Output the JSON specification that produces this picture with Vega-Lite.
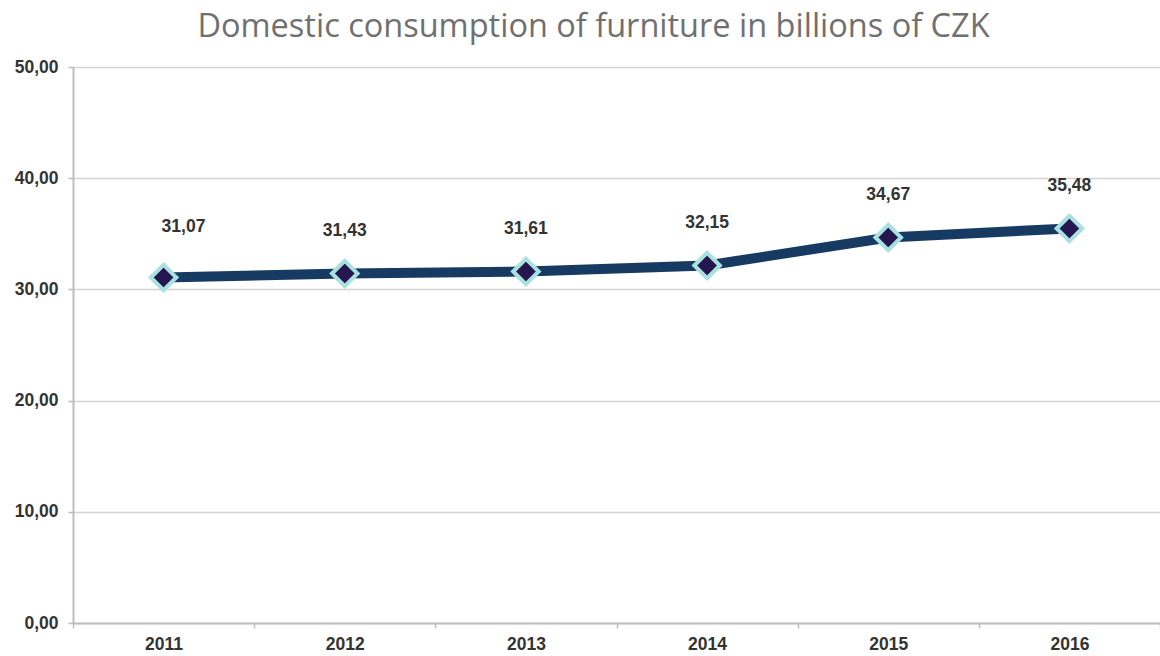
{
  "$schema": "https://vega.github.io/schema/vega-lite/v6.json",
  "width": 1087,
  "height": 556,
  "autosize": {"type": "none"},
  "padding": {"left": 73, "top": 67, "right": 0, "bottom": 33},
  "background": "white",
  "title": {
    "text": "Domestic consumption of furniture in billions of CZK",
    "font": "Open Sans",
    "fontSize": 32.5,
    "fontWeight": "normal",
    "color": "#707070",
    "anchor": "middle",
    "dx": -23,
    "offset": 15
  },
  "data": {
    "values": [
      {"year": "2011", "value": 31.07, "label": "31,07"},
      {"year": "2012", "value": 31.43, "label": "31,43"},
      {"year": "2013", "value": 31.61, "label": "31,61"},
      {"year": "2014", "value": 32.15, "label": "32,15"},
      {"year": "2015", "value": 34.67, "label": "34,67"},
      {"year": "2016", "value": 35.48, "label": "35,48"}
    ]
  },
  "config": {
    "view": {"stroke": null},
    "axis": {
      "labelFont": "Liberation Sans",
      "labelFontWeight": "bold",
      "labelFontSize": 17.5,
      "labelColor": "#333333",
      "domainColor": "#bdbdbd",
      "domainWidth": 2,
      "tickColor": "#bdbdbd",
      "tickWidth": 1.5,
      "tickSize": 5,
      "gridColor": "#d3d3d3",
      "gridWidth": 1.5,
      "title": null
    }
  },
  "encoding": {
    "x": {
      "field": "year",
      "type": "ordinal",
      "scale": {"paddingInner": 0, "paddingOuter": 0},
      "axis": {"labelAngle": 0, "tickBand": "extent", "labelPadding": 7, "grid": false}
    },
    "y": {
      "field": "value",
      "type": "quantitative",
      "scale": {"domain": [0, 50], "nice": false, "zero": true},
      "axis": {
        "values": [0, 10, 20, 30, 40, 50],
        "labelExpr": "replace(format(datum.value, '.2f'), '.', ',')",
        "labelPadding": 10,
        "grid": true
      }
    }
  },
  "layer": [
    {
      "mark": {"type": "line", "color": "#173a63", "strokeWidth": 10, "strokeCap": "round", "strokeJoin": "round"}
    },
    {
      "mark": {"type": "point", "shape": "diamond", "size": 650, "filled": true, "fill": "#25164f", "stroke": "#a9e1e1", "strokeWidth": 4, "opacity": 1}
    },
    {
      "transform": [{"filter": "datum.year != '2011'"}],
      "mark": {"type": "text", "font": "Liberation Sans", "fontWeight": "bold", "fontSize": 17.5, "color": "#333333", "dy": -42},
      "encoding": {"text": {"field": "label"}}
    },
    {
      "transform": [{"filter": "datum.year == '2011'"}],
      "mark": {"type": "text", "font": "Liberation Sans", "fontWeight": "bold", "fontSize": 17.5, "color": "#333333", "align": "left", "dx": -2, "dy": -51},
      "encoding": {"text": {"field": "label"}}
    }
  ]
}
